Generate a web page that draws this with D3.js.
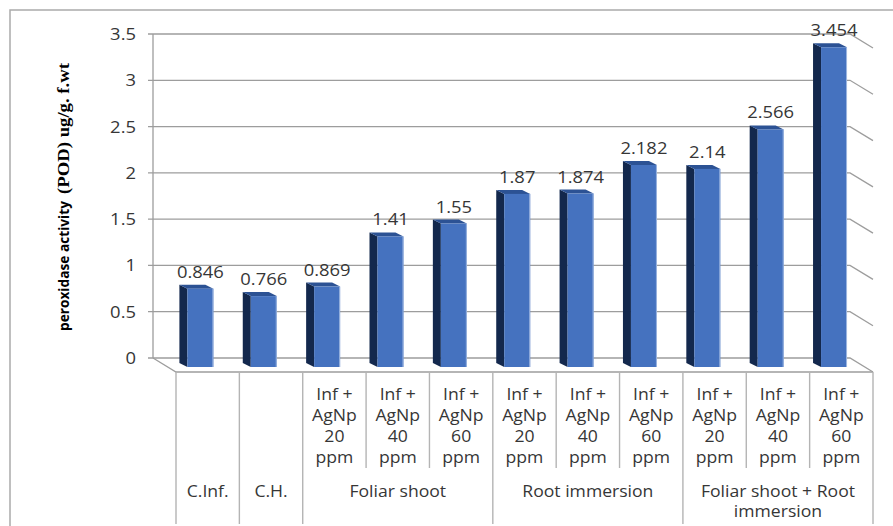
<!DOCTYPE html>
<html>
<head>
<meta charset="utf-8">
<script src="https://cdn.jsdelivr.net/npm/d3@7/dist/d3.min.js"></script>
<style>
  html, body { margin: 0; padding: 0; background: #fff; }
  svg { display: block; }
</style>
</head>
<body>
<svg id="chart" width="893" height="526"></svg>
<script>
// Peroxidase activity per treatment
const values = [0.846, 0.766, 0.869, 1.41, 1.55, 1.87, 1.874, 2.182, 2.14, 2.566, 3.454];
const valueLabels = ["0.846", "0.766", "0.869", "1.41", "1.55", "1.87", "1.874", "2.182", "2.14", "2.566", "3.454"];
// Second-level (per bar) category labels, one array of lines per bar
const catLines = [
  [], [],
  ["Inf +", "AgNp", "20", "ppm"], ["Inf +", "AgNp", "40", "ppm"], ["Inf +", "AgNp", "60", "ppm"],
  ["Inf +", "AgNp", "20", "ppm"], ["Inf +", "AgNp", "40", "ppm"], ["Inf +", "AgNp", "60", "ppm"],
  ["Inf +", "AgNp", "20", "ppm"], ["Inf +", "AgNp", "40", "ppm"], ["Inf +", "AgNp", "60", "ppm"]
];
// First-level (group) labels and how many bars each spans
const groupLines = [["C.Inf."], ["C.H."], ["Foliar shoot"], ["Root immersion"], ["Foliar shoot + Root", "immersion"]];
const groupSizes = [1, 1, 3, 3, 3];
const yTicks = [0, 0.5, 1, 1.5, 2, 2.5, 3, 3.5];
const yTickLabels = ["0", "0.5", "1", "1.5", "2", "2.5", "3", "3.5"];
const yTitleSans = "peroxidase activity";
const yTitleSerif = "(POD) ug/g. f.wt";

const svg = d3.select("#chart");
const TEXT = "#363636";
const FONT = "'Open Sans', sans-serif";
const FS = 16;
const SX = 1.1; // horizontal stretch of label glyphs

// outer chart border
svg.append("rect").attr("x", 10).attr("y", 10).attr("width", 900).attr("height", 600)
  .attr("fill", "none").attr("stroke", "#ababab").attr("stroke-width", 1.5);

// 3D frame: back wall spans wallX0..wallX1, floor front edge is offset by depth
const wallX0 = 153, wallX1 = 850;
const depthX = 23, depthY = 14;
const y = d3.scaleLinear().domain([0, 3.5]).range([358, 34]);
const x = d3.scaleBand().domain(d3.range(values.length)).range([wallX0 + depthX, wallX1 + depthX]).padding(0);

const grid = svg.append("g").attr("stroke", "#9d9d9d").attr("stroke-width", 1.3).attr("fill", "none");
yTicks.forEach(t => {
  const yy = y(t);
  grid.append("path").attr("d", `M${wallX0 - 5},${yy}H${wallX1}L${wallX1 + depthX},${yy + depthY}`);
});
// vertical axis line on the wall edge
grid.append("line").attr("x1", wallX0).attr("x2", wallX0).attr("y1", y(3.5)).attr("y2", y(0));
// floor: left depth edge and front edge
grid.append("path").attr("d", `M${wallX0},${y(0)}L${wallX0 + depthX},${y(0) + depthY}H${wallX1 + depthX}`);

// y tick labels
svg.append("g").selectAll("text").data(yTicks).join("text")
  .attr("transform", d => `translate(136,${y(d) + 6}) scale(${SX + 0.05},1)`)
  .attr("text-anchor", "end")
  .attr("font-family", FONT).attr("font-size", FS).attr("fill", TEXT)
  .text((d, i) => yTickLabels[i]);

// y axis title: sans part then serif part, reading bottom to top
const title = svg.append("text")
  .attr("transform", "translate(69,331) rotate(-90)")
  .attr("font-weight", "bold").attr("fill", "#000");
title.append("tspan").attr("font-family", FONT).attr("font-size", 14)
  .attr("textLength", 130).attr("lengthAdjust", "spacingAndGlyphs").text(yTitleSans);
title.append("tspan").attr("dx", 7).attr("font-family", "'Liberation Serif', serif").attr("font-size", 17)
  .attr("textLength", 131).attr("lengthAdjust", "spacingAndGlyphs").text(yTitleSerif);

// bars: front face sits slightly in front of the wall, with a dark side and a top
const bw = x.bandwidth();
const barOff = 9;           // front face vertical shift relative to wall scale
const bdx = 8, bdy = 4;     // bar depth offset
const bars = svg.append("g");
values.forEach((v, i) => {
  const fx0 = x(i) + bw * 0.18;
  const fx1 = fx0 + bw * 0.41;
  const ft = y(v) + barOff;
  const fb = y(0) + barOff;
  const g = bars.append("g");
  // side face
  g.append("path").attr("fill", "#13284d")
    .attr("d", `M${fx0},${ft}L${fx0 - bdx},${ft - bdy}L${fx0 - bdx},${fb - bdy}L${fx0},${fb}Z`);
  // top face
  g.append("path").attr("fill", "#2c5294")
    .attr("d", `M${fx0},${ft}L${fx0 - bdx},${ft - bdy}L${fx1 - bdx},${ft - bdy}L${fx1},${ft}Z`);
  // front face
  g.append("rect").attr("x", fx0).attr("y", ft).attr("width", fx1 - fx0).attr("height", fb - ft)
    .attr("fill", "#4572bf");
  // light rim on the right edge
  g.append("line").attr("x1", fx1 - 0.5).attr("x2", fx1 - 0.5).attr("y1", ft).attr("y2", fb)
    .attr("stroke", "#9db6e0").attr("stroke-width", 1);
});

// value labels
svg.append("g").selectAll("text").data(values).join("text")
  .attr("transform", (d, i) => {
    const cx = x(i) + bw * 0.18 + bw * 0.205;
    return `translate(${cx},${y(d) - 2}) scale(${SX + 0.05},1)`;
  })
  .attr("text-anchor", "middle")
  .attr("font-family", FONT).attr("font-size", FS).attr("fill", TEXT)
  .text((d, i) => valueLabels[i]);

// category dividers under the floor
const groupStarts = [];
let acc = 0;
groupSizes.forEach(s => { groupStarts.push(acc); acc += s; });
const div = svg.append("g").attr("stroke", "#b4b4b4").attr("stroke-width", 1.4);
d3.range(values.length + 1).forEach(k => {
  const xx = k < values.length ? x(k) : x(values.length - 1) + bw;
  const isGroupEdge = k === values.length || groupStarts.includes(k);
  div.append("line").attr("x1", xx).attr("x2", xx)
    .attr("y1", y(0) + depthY).attr("y2", isGroupEdge ? 524 : 468);
});

// bar-level labels
const catG = svg.append("g").attr("font-family", FONT).attr("font-size", FS).attr("fill", TEXT)
  .attr("text-anchor", "middle");
catLines.forEach((lines, i) => {
  const cx = x(i) + bw / 2;
  lines.forEach((ln, j) => {
    catG.append("text").attr("transform", `translate(${cx},${400 + j * 21}) scale(${SX},1)`).text(ln);
  });
});

// group labels
groupLines.forEach((lines, gi) => {
  const s = groupStarts[gi];
  const cx = x(s) + bw * groupSizes[gi] / 2;
  lines.forEach((ln, j) => {
    catG.append("text").attr("transform", `translate(${cx},${497 + j * 20}) scale(${SX},1)`).text(ln);
  });
});
</script>
</body>
</html>
